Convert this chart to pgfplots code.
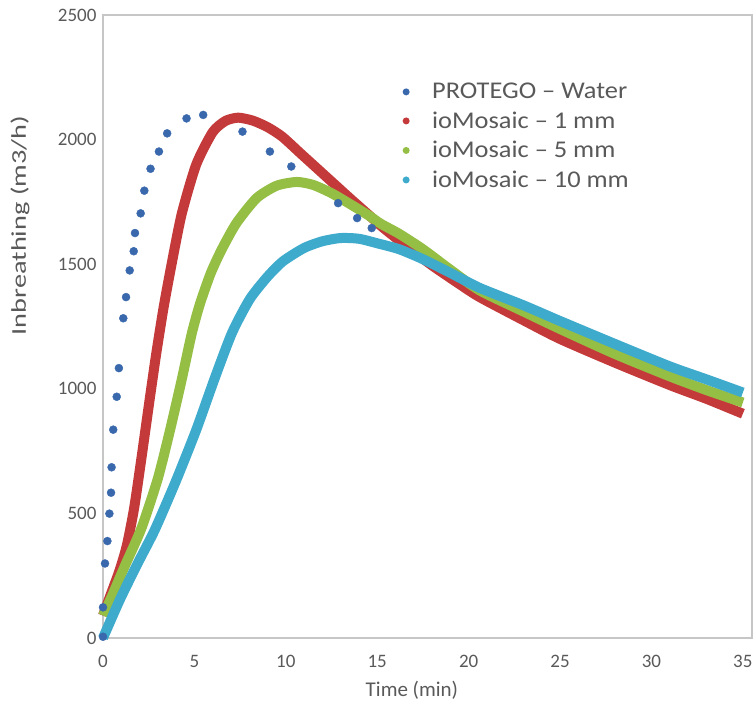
\documentclass[border=0pt]{standalone}
\usepackage{graphicx}
\usepackage{pgfplots}
\pgfplotsset{compat=1.18}
\usepackage{fontspec}
\setmainfont{Carlito}
\definecolor{cblue}{RGB}{58,104,172}
\definecolor{cred}{RGB}{196,58,58}
\definecolor{cgreen}{RGB}{148,190,68}
\definecolor{ccyan}{RGB}{62,170,204}
\definecolor{txt}{RGB}{89,89,89}
\newcommand{\legdot}[1]{%
  \pgfpathmoveto{\pgfpoint{0pt}{0pt}}\pgfpathlineto{\pgfpoint{31pt}{0pt}}\pgfusepath{}%
  \pgfsetfillcolor{#1}\pgfpathcircle{\pgfpoint{7pt}{0pt}}{3.5pt}\pgfusepath{fill}}
\newcommand{\lt}[1]{\scalebox{1.1}[1]{#1}}
\begin{document}
\begin{tikzpicture}
\begin{axis}[name=ax, scale only axis, width=649pt, height=623pt,
  xmin=0, xmax=35.5, ymin=0, ymax=2500,
  xtick={0,5,...,35}, ytick={0,500,...,2500},
  major tick length=0,
  axis line style={draw=gray!45, line width=1.2pt},
  /pgf/number format/assume math mode=true,
  /pgf/number format/1000 sep={},
  tick label style={font=\fontsize{19}{22}\selectfont, text=txt},
  xticklabel style={yshift=-14pt},
  yticklabel style={xshift=-3pt},
  xlabel={Time (min)}, ylabel={\scalebox{1.35}[1]{Inbreathing (m3/h)}},
  label style={font=\fontsize{21}{24}\selectfont, text=txt},
  xlabel style={font=\fontsize{21}{24}\selectfont, at={(axis description cs:0.476,-0.0835)}, anchor=center},
  ylabel style={at={(axis description cs:-0.1279,0.662)}, anchor=center},
  legend style={draw=none, fill=none, font=\fontsize{24}{29}\selectfont, text=txt,
    at={(axis description cs:0.4514,0.897)}, anchor=north west, row sep=7.5pt},
  legend cell align=left,
  clip=false,
]
\addplot[only marks, mark=*, mark size=4pt, color=cblue,
  legend image code/.code={\legdot{cblue}}]
coordinates {
(0.0,5)(0.0,123)(0.11,299)(0.24,389)(0.35,499)(0.44,583)(0.47,685)(0.56,836)
(0.75,968)(0.87,1083)(1.11,1283)(1.26,1368)(1.46,1475)(1.68,1552)(1.75,1625)
(2.06,1704)(2.26,1795)(2.6,1883)(3.06,1952)(3.51,2025)(4.57,2085)(5.48,2099)
(7.63,2032)(9.13,1952)(10.3,1892)(12.86,1745)(13.9,1685)(14.7,1645)
};
\addlegendentry{\lt{PROTEGO – Water}}
\addplot[smooth, tension=0.4, color=cred, line width=10pt,
  legend image code/.code={\legdot{cred}}]
coordinates {
(0,90)(0.4,170)(0.9,270)(1.3,370)(1.7,520)(2.1,720)(2.5,930)(2.9,1135)(3.3,1320)
(3.7,1480)(4.3,1700)(5.1,1900)(6.0,2030)(6.7,2075)(7.4,2088)(8.2,2076)(9.0,2050)
(9.8,2012)(10.8,1945)(11.7,1885)(12.6,1825)(13.5,1765)(14.5,1700)(15.3,1648)
(16.5,1578)(18,1495)(19.5,1420)(20.6,1368)(23,1275)(25,1200)(28,1105)(31,1015)
(33,960)(35,900)
};
\addlegendentry{\lt{ioMosaic – 1 mm}}
\addplot[smooth, tension=0.4, color=cgreen, line width=10pt,
  legend image code/.code={\legdot{cgreen}}]
coordinates {
(0,90)(0.5,170)(1.2,290)(2.1,440)(3.0,640)(3.66,832)(4.3,1035)(4.85,1220)
(5.3,1340)(5.9,1465)(6.5,1560)(7.3,1665)(8.4,1765)(9.5,1815)(10.6,1830)
(11.5,1818)(12.5,1785)(13.5,1742)(14.5,1697)(15.2,1662)(16.2,1622)(17.5,1560)
(19,1478)(20.6,1395)(23,1310)(25,1240)(28,1140)(31,1050)(33,995)(35,945)
};
\addlegendentry{\lt{ioMosaic – 5 mm}}
\addplot[smooth, tension=0.4, color=ccyan, line width=10pt,
  legend image code/.code={\legdot{ccyan}}]
coordinates {
(0,0)(0.93,155)(1.9,300)(2.84,435)(4.0,632)(5.1,835)(6.1,1040)(7.06,1225)
(8.03,1360)(9.0,1450)(9.85,1512)(11,1565)(12,1592)(13,1605)(14,1602)(15.1,1582)
(16.2,1560)(17.5,1520)(19,1465)(20.6,1405)(23,1335)(25,1272)(28,1180)(31,1090)
(33,1038)(35,985)
};
\addlegendentry{\lt{ioMosaic – 10 mm}}
\end{axis}
\pgfresetboundingbox
\useasboundingbox ([xshift=-103pt,yshift=-64pt]ax.south west) rectangle ([xshift=3pt,yshift=15pt]ax.north east);
\end{tikzpicture}
\end{document}
